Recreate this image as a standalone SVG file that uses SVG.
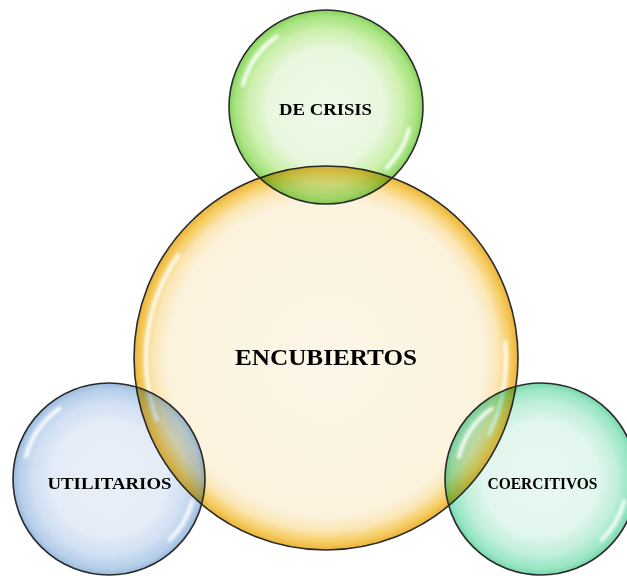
<svg xmlns="http://www.w3.org/2000/svg" width="627" height="576" viewBox="0 0 627 576">
<defs>
<radialGradient id="gY" cx="0.5" cy="0.5" r="0.5">
<stop offset="0" stop-color="#fdf6e7"/>
<stop offset="0.82" stop-color="#fcf3df"/>
<stop offset="0.9" stop-color="#fbe6b4"/>
<stop offset="0.96" stop-color="#f6cd62"/>
<stop offset="1" stop-color="#eab33a"/>
</radialGradient>
<radialGradient id="gG" cx="0.5" cy="0.5" r="0.5">
<stop offset="0" stop-color="#eef9e8"/>
<stop offset="0.6" stop-color="#e8f7de"/>
<stop offset="0.8" stop-color="#c4ed9f" stop-opacity="0.85"/>
<stop offset="0.93" stop-color="#84d94c" stop-opacity="0.7"/>
<stop offset="1" stop-color="#5cc42a" stop-opacity="0.75"/>
</radialGradient>
<radialGradient id="gB" cx="0.5" cy="0.5" r="0.5">
<stop offset="0" stop-color="#e9eff8"/>
<stop offset="0.6" stop-color="#e4ecf7"/>
<stop offset="0.8" stop-color="#c8daf0" stop-opacity="0.85"/>
<stop offset="0.93" stop-color="#98bbe2" stop-opacity="0.7"/>
<stop offset="1" stop-color="#7aa3d2" stop-opacity="0.75"/>
</radialGradient>
<radialGradient id="gT" cx="0.5" cy="0.5" r="0.5">
<stop offset="0" stop-color="#e9f8f2"/>
<stop offset="0.6" stop-color="#e1f6ed"/>
<stop offset="0.8" stop-color="#b5ecd3" stop-opacity="0.85"/>
<stop offset="0.93" stop-color="#6fdcac" stop-opacity="0.7"/>
<stop offset="1" stop-color="#47c98f" stop-opacity="0.75"/>
</radialGradient>
<filter id="blur" x="-20%" y="-20%" width="140%" height="140%">
<feGaussianBlur stdDeviation="1.6"/>
</filter>
</defs>
<style>
.fill{mix-blend-mode:multiply;}
.edge{fill:none;stroke:#2a2a2a;stroke-width:1.6;}
.hl{fill:none;stroke:#ffffff;stroke-width:4;stroke-linecap:round;opacity:0.9;filter:url(#blur);}
.lbl{font-family:"Liberation Serif","Times New Roman",serif;font-weight:bold;fill:#000;text-anchor:middle;}
</style>
<rect width="627" height="576" fill="#ffffff"/>
<g id="connectors"/>
<g id="node-encubiertos">
<circle cx="326" cy="358" r="192" fill="url(#gY)"/>
<circle class="edge" cx="326" cy="358" r="192"/>
<path class="hl" d="M156.9,419.6 A180,180 0 0 1 178.5,254.8"/>
<path class="hl" d="M505.3,342.3 A180,180 0 0 1 489.1,434.1" opacity="0.6"/>
<text class="lbl" x="326" y="365" font-size="24" textLength="182" lengthAdjust="spacingAndGlyphs">ENCUBIERTOS</text>
</g>
<g id="node-de-crisis">
<circle class="fill" cx="326" cy="107" r="97" fill="url(#gG)"/>
<circle class="edge" cx="326" cy="107" r="97"/>
<path class="hl" d="M242.9,84.7 A86,86 0 0 1 276.7,36.5"/>
<path class="hl" d="M409.1,129.3 A86,86 0 0 1 386.8,167.8"/>
<text class="lbl" x="325.5" y="115" font-size="17" textLength="93" lengthAdjust="spacingAndGlyphs">DE CRISIS</text>
</g>
<g id="node-utilitarios">
<circle class="fill" cx="109" cy="479" r="96" fill="url(#gB)"/>
<circle class="edge" cx="109" cy="479" r="96"/>
<path class="hl" d="M25.9,456.7 A86,86 0 0 1 59.7,408.5"/>
<path class="hl" d="M192.1,501.3 A86,86 0 0 1 169.8,539.8"/>
<text class="lbl" x="109.5" y="489" font-size="17" textLength="124" lengthAdjust="spacingAndGlyphs">UTILITARIOS</text>
</g>
<g id="node-coercitivos">
<circle class="fill" cx="541" cy="479" r="96" fill="url(#gT)"/>
<circle class="edge" cx="541" cy="479" r="96"/>
<path class="hl" d="M458.9,456.7 A86,86 0 0 1 491.7,408.5"/>
<path class="hl" d="M624.1,501.3 A86,86 0 0 1 601.8,539.8"/>
<text class="lbl" x="542.5" y="489" font-size="16" textLength="110" lengthAdjust="spacingAndGlyphs">COERCITIVOS</text>
</g>
</svg>
